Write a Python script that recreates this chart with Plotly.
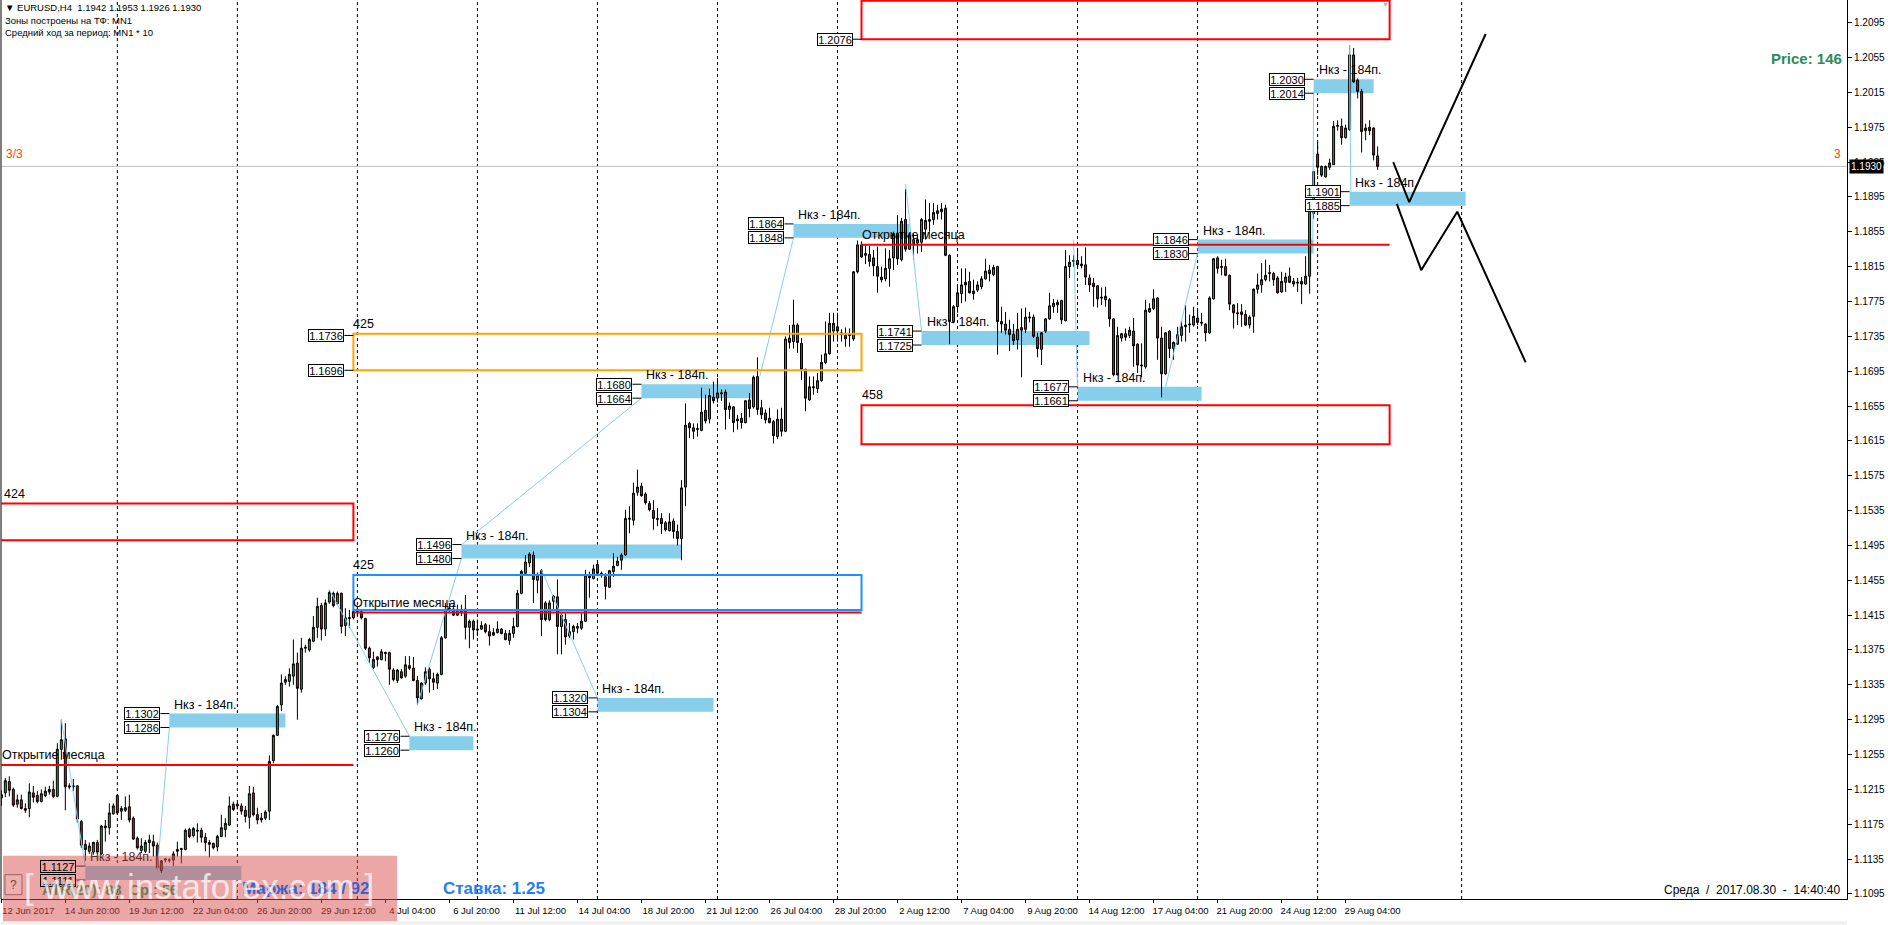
import plotly.graph_objects as go

opens = [
1.1205,1.1211,1.1224,1.1215,1.1198,1.1203,1.1193,1.1193,1.1211,1.1208,
1.1201,1.1208,1.1212,1.1215,1.1207,1.1261,1.1273,1.1219,1.1218,1.1219,
1.1178,1.1152,1.1144,1.1143,1.1154,1.1141,1.1171,1.1171,1.1187,1.1208,
1.1190,1.1191,1.1195,1.1182,1.1159,1.1145,1.1144,1.1154,1.1155,1.1151,
1.1122,1.1134,1.1134,1.1134,1.1144,1.1146,1.1146,1.1169,1.1162,1.1167,
1.1168,1.1160,1.1154,1.1153,1.1149,1.1161,1.1169,1.1174,1.1198,1.1198,
1.1196,1.1191,1.1183,1.1211,1.1186,1.1182,1.1182,1.1190,1.1248,1.1277,
1.1312,1.1338,1.1339,1.1345,1.1360,1.1330,1.1377,1.1375,1.1385,1.1401,
1.1426,1.1399,1.1430,1.1440,1.1428,1.1440,1.1403,1.1411,1.1412,1.1418,
1.1419,1.1411,1.1377,1.1355,1.1367,1.1364,1.1371,1.1372,1.1352,1.1340,
1.1350,1.1345,1.1357,1.1354,1.1340,1.1319,1.1337,1.1353,1.1342,1.1337,
1.1347,1.1389,1.1421,1.1422,1.1415,1.1419,1.1422,1.1401,1.1408,1.1399,
1.1399,1.1404,1.1396,1.1392,1.1395,1.1399,1.1394,1.1386,1.1394,1.1402,
1.1440,1.1463,1.1475,1.1484,1.1455,1.1466,1.1429,1.1410,1.1431,1.1436,
1.1402,1.1410,1.1391,1.1396,1.1400,1.1400,1.1408,1.1461,1.1457,1.1473,
1.1463,1.1459,1.1447,1.1465,1.1472,1.1478,1.1484,1.1525,1.1524,1.1556,
1.1563,1.1554,1.1543,1.1535,1.1526,1.1526,1.1521,1.1512,1.1523,1.1511,
1.1503,1.1562,1.1635,1.1630,1.1628,1.1627,1.1650,1.1640,1.1665,1.1664,
1.1669,1.1671,1.1651,1.1654,1.1640,1.1641,1.1636,1.1662,1.1654,1.1689,
1.1653,1.1647,1.1641,1.1637,1.1620,1.1640,1.1626,1.1733,1.1729,1.1748,
1.1727,1.1697,1.1662,1.1676,1.1675,1.1684,1.1705,1.1715,1.1741,1.1746,
1.1739,1.1736,1.1737,1.1732,1.1809,1.1840,1.1828,1.1829,1.1825,1.1815,
1.1803,1.1801,1.1813,1.1825,1.1853,1.1823,1.1869,1.1835,1.1846,1.1842,
1.1843,1.1858,1.1867,1.1869,1.1876,1.1878,1.1882,1.1828,1.1752,1.1769,
1.1784,1.1794,1.1798,1.1784,1.1788,1.1792,1.1801,1.1811,1.1806,1.1815,
1.1752,1.1749,1.1743,1.1737,1.1731,1.1745,1.1743,1.1756,1.1757,1.1734,
1.1720,1.1741,1.1755,1.1769,1.1771,1.1776,1.1753,1.1815,1.1821,1.1822,
1.1818,1.1817,1.1802,1.1796,1.1793,1.1780,1.1777,1.1777,1.1755,1.1691,
1.1733,1.1738,1.1736,1.1741,1.1726,1.1701,1.1700,1.1763,1.1767,1.1779,
1.1733,1.1692,1.1741,1.1721,1.1726,1.1736,1.1746,1.1748,1.1748,1.1756,
1.1750,1.1749,1.1739,1.1778,1.1825,1.1814,1.1815,1.1805,1.1771,1.1762,
1.1763,1.1760,1.1748,1.1758,1.1789,1.1794,1.1800,1.1807,1.1807,1.1802,
1.1786,1.1797,1.1804,1.1798,1.1796,1.1798,1.1795,1.1804,1.1876,1.1944,
1.1930,1.1918,1.1929,1.1932,1.1976,1.1976,1.1963,1.1972,1.2058,1.2029,
1.2016,1.1971,1.1975,1.1974,1.1942]

highs = [
1.1214,1.1228,1.1230,1.1217,1.1209,1.1209,1.1199,1.1222,1.1219,1.1213,
1.1215,1.1218,1.1219,1.1225,1.1268,1.1295,1.1291,1.1222,1.1227,1.1220,
1.1180,1.1157,1.1154,1.1155,1.1157,1.1174,1.1180,1.1199,1.1199,1.1209,
1.1196,1.1207,1.1209,1.1184,1.1161,1.1159,1.1157,1.1163,1.1163,1.1154,
1.1134,1.1136,1.1136,1.1144,1.1155,1.1148,1.1170,1.1171,1.1172,1.1176,
1.1171,1.1165,1.1157,1.1154,1.1163,1.1186,1.1182,1.1207,1.1201,1.1200,
1.1199,1.1196,1.1219,1.1218,1.1194,1.1188,1.1191,1.1254,1.1278,1.1312,
1.1347,1.1345,1.1354,1.1387,1.1372,1.1389,1.1381,1.1389,1.1414,1.1435,
1.1429,1.1433,1.1444,1.1442,1.1442,1.1441,1.1423,1.1421,1.1429,1.1425,
1.1421,1.1412,1.1379,1.1373,1.1368,1.1376,1.1373,1.1373,1.1354,1.1353,
1.1353,1.1368,1.1368,1.1367,1.1345,1.1338,1.1355,1.1355,1.1349,1.1349,
1.1391,1.1429,1.1429,1.1427,1.1427,1.1427,1.1438,1.1410,1.1410,1.1410,
1.1408,1.1406,1.1404,1.1400,1.1408,1.1400,1.1398,1.1398,1.1412,1.1444,
1.1467,1.1484,1.1487,1.1488,1.1464,1.1468,1.1431,1.1432,1.1438,1.1456,
1.1417,1.1417,1.1406,1.1404,1.1406,1.1417,1.1467,1.1465,1.1473,1.1475,
1.1465,1.1463,1.1467,1.1486,1.1482,1.1486,1.1536,1.1540,1.1567,1.1582,
1.1567,1.1556,1.1546,1.1547,1.1538,1.1532,1.1523,1.1532,1.1526,1.1519,
1.1570,1.1658,1.1637,1.1635,1.1635,1.1676,1.1668,1.1675,1.1683,1.1687,
1.1674,1.1674,1.1659,1.1655,1.1645,1.1647,1.1662,1.1670,1.1690,1.1711,
1.1662,1.1651,1.1653,1.1639,1.1651,1.1653,1.1735,1.1748,1.1777,1.1750,
1.1733,1.1698,1.1689,1.1689,1.1693,1.1714,1.1752,1.1762,1.1762,1.1762,
1.1743,1.1745,1.1744,1.1810,1.1845,1.1844,1.1840,1.1839,1.1834,1.1838,
1.1815,1.1836,1.1834,1.1855,1.1874,1.1871,1.1904,1.1853,1.1853,1.1851,
1.1871,1.1892,1.1888,1.1888,1.1886,1.1888,1.1886,1.1829,1.1771,1.1792,
1.1813,1.1813,1.1809,1.1800,1.1798,1.1804,1.1824,1.1817,1.1817,1.1816,
1.1769,1.1763,1.1754,1.1749,1.1762,1.1767,1.1768,1.1763,1.1760,1.1739,
1.1740,1.1756,1.1785,1.1778,1.1777,1.1777,1.1834,1.1828,1.1828,1.1834,
1.1827,1.1837,1.1806,1.1802,1.1794,1.1791,1.1792,1.1779,1.1756,1.1746,
1.1739,1.1744,1.1746,1.1756,1.1727,1.1727,1.1777,1.1773,1.1789,1.1780,
1.1746,1.1740,1.1742,1.1729,1.1746,1.1753,1.1771,1.1760,1.1769,1.1765,
1.1762,1.1750,1.1781,1.1825,1.1827,1.1823,1.1824,1.1806,1.1772,1.1773,
1.1772,1.1765,1.1759,1.1790,1.1807,1.1819,1.1823,1.1817,1.1809,1.1804,
1.1809,1.1808,1.1814,1.1802,1.1802,1.1803,1.1827,1.1887,1.1925,1.1958,
1.1931,1.1931,1.1939,1.1982,1.1983,1.1985,1.1978,1.2069,1.2066,1.2031,
1.2019,1.1979,1.1983,1.1975,1.1953]

lows = [
1.1196,1.1206,1.1207,1.1195,1.1194,1.1192,1.1188,1.1183,1.1200,1.1199,
1.1200,1.1206,1.1209,1.1205,1.1206,1.1249,1.1191,1.1215,1.1213,1.1177,
1.1148,1.1133,1.1141,1.1140,1.1141,1.1140,1.1155,1.1163,1.1186,1.1186,
1.1180,1.1189,1.1177,1.1157,1.1146,1.1142,1.1142,1.1142,1.1138,1.1123,
1.1119,1.1131,1.1131,1.1127,1.1138,1.1130,1.1145,1.1159,1.1160,1.1154,
1.1154,1.1144,1.1137,1.1146,1.1144,1.1160,1.1160,1.1173,1.1190,1.1192,
1.1186,1.1177,1.1170,1.1184,1.1175,1.1177,1.1180,1.1180,1.1245,1.1277,
1.1305,1.1335,1.1333,1.1335,1.1295,1.1326,1.1372,1.1373,1.1384,1.1389,
1.1386,1.1391,1.1428,1.1424,1.1427,1.1394,1.1391,1.1400,1.1410,1.1414,
1.1410,1.1375,1.1360,1.1353,1.1356,1.1363,1.1362,1.1335,1.1339,1.1337,
1.1342,1.1343,1.1352,1.1339,1.1312,1.1318,1.1335,1.1326,1.1329,1.1330,
1.1346,1.1388,1.1417,1.1414,1.1414,1.1414,1.1387,1.1377,1.1387,1.1391,
1.1398,1.1394,1.1380,1.1391,1.1394,1.1393,1.1386,1.1381,1.1389,1.1401,
1.1439,1.1460,1.1470,1.1429,1.1440,1.1391,1.1408,1.1408,1.1421,1.1370,
1.1370,1.1381,1.1389,1.1387,1.1394,1.1398,1.1407,1.1435,1.1456,1.1461,
1.1458,1.1433,1.1446,1.1459,1.1471,1.1467,1.1483,1.1509,1.1518,1.1552,
1.1551,1.1542,1.1534,1.1513,1.1517,1.1508,1.1511,1.1511,1.1503,1.1495,
1.1478,1.1540,1.1618,1.1617,1.1620,1.1626,1.1635,1.1635,1.1658,1.1659,
1.1661,1.1628,1.1640,1.1625,1.1628,1.1629,1.1635,1.1642,1.1652,1.1645,
1.1640,1.1635,1.1635,1.1612,1.1617,1.1620,1.1625,1.1721,1.1721,1.1716,
1.1685,1.1649,1.1661,1.1668,1.1670,1.1683,1.1703,1.1714,1.1729,1.1729,
1.1729,1.1723,1.1723,1.1730,1.1807,1.1825,1.1818,1.1815,1.1804,1.1785,
1.1797,1.1798,1.1792,1.1811,1.1817,1.1821,1.1832,1.1834,1.1823,1.1830,
1.1832,1.1846,1.1855,1.1863,1.1869,1.1869,1.1827,1.1726,1.1750,1.1762,
1.1773,1.1775,1.1784,1.1777,1.1786,1.1789,1.1800,1.1798,1.1804,1.1714,
1.1739,1.1737,1.1718,1.1725,1.1720,1.1688,1.1739,1.1751,1.1733,1.1711,
1.1702,1.1739,1.1754,1.1762,1.1762,1.1749,1.1752,1.1802,1.1815,1.1815,
1.1813,1.1794,1.1786,1.1769,1.1768,1.1771,1.1769,1.1746,1.1689,1.1690,
1.1729,1.1730,1.1733,1.1700,1.1693,1.1688,1.1698,1.1762,1.1765,1.1708,
1.1665,1.1691,1.1710,1.1708,1.1725,1.1729,1.1729,1.1739,1.1746,1.1748,
1.1747,1.1729,1.1738,1.1777,1.1807,1.1805,1.1804,1.1765,1.1744,1.1748,
1.1746,1.1747,1.1744,1.1739,1.1784,1.1785,1.1798,1.1798,1.1793,1.1784,
1.1785,1.1786,1.1796,1.1792,1.1786,1.1772,1.1794,1.1784,1.1870,1.1920,
1.1918,1.1917,1.1926,1.1932,1.1971,1.1955,1.1962,1.1971,1.2026,1.2008,
1.1946,1.1960,1.1966,1.1937,1.1926]

closes = [
1.1209,1.1225,1.1214,1.1197,1.1203,1.1193,1.1191,1.1212,1.1206,1.1201,
1.1210,1.1213,1.1215,1.1207,1.1261,1.1272,1.1218,1.1218,1.1219,1.1181,
1.1151,1.1146,1.1150,1.1154,1.1143,1.1173,1.1173,1.1188,1.1196,1.1188,
1.1193,1.1194,1.1180,1.1158,1.1148,1.1150,1.1154,1.1157,1.1150,1.1125,
1.1133,1.1135,1.1134,1.1141,1.1146,1.1147,1.1168,1.1161,1.1170,1.1168,
1.1160,1.1154,1.1152,1.1148,1.1161,1.1171,1.1176,1.1196,1.1192,1.1196,
1.1190,1.1184,1.1210,1.1186,1.1180,1.1180,1.1189,1.1247,1.1277,1.1310,
1.1337,1.1341,1.1347,1.1359,1.1331,1.1377,1.1378,1.1387,1.1401,1.1425,
1.1399,1.1429,1.1441,1.1426,1.1440,1.1402,1.1412,1.1412,1.1419,1.1419,
1.1412,1.1377,1.1366,1.1364,1.1364,1.1373,1.1372,1.1353,1.1341,1.1352,
1.1343,1.1358,1.1354,1.1340,1.1320,1.1337,1.1350,1.1342,1.1338,1.1347,
1.1389,1.1421,1.1423,1.1415,1.1419,1.1421,1.1401,1.1408,1.1398,1.1398,
1.1403,1.1396,1.1391,1.1395,1.1399,1.1394,1.1387,1.1394,1.1402,1.1440,
1.1465,1.1476,1.1485,1.1456,1.1461,1.1410,1.1410,1.1429,1.1437,1.1402,
1.1415,1.1390,1.1396,1.1402,1.1402,1.1408,1.1461,1.1458,1.1468,1.1463,
1.1462,1.1448,1.1466,1.1471,1.1477,1.1484,1.1526,1.1526,1.1555,1.1562,
1.1552,1.1544,1.1536,1.1526,1.1525,1.1520,1.1513,1.1522,1.1511,1.1503,
1.1561,1.1633,1.1630,1.1626,1.1629,1.1648,1.1638,1.1667,1.1661,1.1670,
1.1670,1.1651,1.1655,1.1636,1.1638,1.1636,1.1661,1.1652,1.1688,1.1651,
1.1645,1.1639,1.1636,1.1621,1.1640,1.1626,1.1732,1.1728,1.1748,1.1728,
1.1697,1.1664,1.1677,1.1677,1.1684,1.1705,1.1715,1.1750,1.1750,1.1741,
1.1737,1.1732,1.1736,1.1809,1.1840,1.1826,1.1830,1.1821,1.1816,1.1804,
1.1800,1.1813,1.1824,1.1853,1.1824,1.1867,1.1835,1.1851,1.1841,1.1846,
1.1869,1.1868,1.1869,1.1877,1.1879,1.1881,1.1828,1.1752,1.1769,1.1785,
1.1794,1.1797,1.1785,1.1787,1.1794,1.1801,1.1810,1.1807,1.1814,1.1752,
1.1749,1.1742,1.1737,1.1730,1.1743,1.1742,1.1757,1.1757,1.1735,1.1721,
1.1739,1.1755,1.1770,1.1773,1.1774,1.1754,1.1815,1.1820,1.1822,1.1817,
1.1816,1.1803,1.1794,1.1792,1.1778,1.1779,1.1781,1.1755,1.1691,1.1736,
1.1738,1.1734,1.1742,1.1724,1.1702,1.1702,1.1765,1.1767,1.1778,1.1733,
1.1692,1.1739,1.1721,1.1728,1.1737,1.1746,1.1748,1.1749,1.1758,1.1751,
1.1751,1.1739,1.1779,1.1824,1.1813,1.1815,1.1805,1.1772,1.1762,1.1761,
1.1760,1.1748,1.1757,1.1789,1.1794,1.1800,1.1805,1.1808,1.1800,1.1785,
1.1798,1.1803,1.1797,1.1795,1.1797,1.1795,1.1804,1.1886,1.1924,1.1929,
1.1920,1.1930,1.1934,1.1976,1.1977,1.1963,1.1974,1.2058,1.2027,1.2016,
1.1970,1.1974,1.1971,1.1943,1.1930]

# Axis labels
date_labels = ["12 Jun 2017","14 Jun 20:00","19 Jun 12:00","22 Jun 04:00","26 Jun 20:00","29 Jun 12:00",
               "4 Jul 04:00","6 Jul 20:00","11 Jul 12:00","14 Jul 04:00","18 Jul 20:00","21 Jul 12:00",
               "26 Jul 04:00","28 Jul 20:00","2 Aug 12:00","7 Aug 04:00","9 Aug 20:00","14 Aug 12:00",
               "17 Aug 04:00","21 Aug 20:00","24 Aug 12:00","29 Aug 04:00"]
date_bars = [0,16,32,48,64,80,96,112,128,144,160,176,192,208,224,240,256,272,288,304,320,336]
price_ticks = [1.1095,1.1135,1.1175,1.1215,1.1255,1.1295,1.1335,1.1375,1.1415,1.1455,1.1495,1.1535,1.1575,
               1.1615,1.1655,1.1695,1.1735,1.1775,1.1815,1.1855,1.1895,1.1935,1.1975,1.2015,1.2055,1.2095]
separator_bars = [29,59,89,119,149,179,209,239,269,299,329,365]

# Daily-range zones
zone_tops = [1.1127,1.1302,1.1276,1.1320,1.1496,1.1680,1.1864,1.1741,1.1677,1.1846,1.2030,1.1901]
zone_bottoms = [1.1111,1.1286,1.1260,1.1304,1.1480,1.1664,1.1848,1.1725,1.1661,1.1830,1.2014,1.1885]
zone_starts = [21,42,102,149,115,160,198,230,269,299,328,337]
zone_ends = [60,71,118,178,170,188,227,272,300,328,343,366]
zone_text = "Нкз - 184п."

# Monthly frames
frame_x0 = [215,-0.3,88,88,215]
frame_x1 = [347,88,215,215,347]
frame_y0 = [1.2076,1.1501,1.1696,1.1421,1.1611]
frame_y1 = [1.2120,1.1543,1.1738,1.1461,1.1656]
frame_colors = ["#ff0000","#ff0000","#ffa500","#1e90ff","#ff0000"]
frame_labels = ["", "424", "425", "425", "458"]
open_x0 = [-0.3,88,215]
open_x1 = [88,215,347]
open_price = [1.1243,1.1418,1.1840]
open_text = "Открытие месяца"
frame_price_labels = [1.2076,1.1736,1.1696]
frame_price_bars = [215,88,88]

# Thin links between swing points and zones
link_x = [15,21,None,39,42,None,82,102,None,104,115,None,115,160,None,135,149,None,189.6,198,None,
          226,230,None,268,269,None,291,299,None,327.8,328,None,337,337.3]
link_y = [1.1295,1.1127,None,1.1123,1.1286,None,1.1444,1.1276,None,1.1312,1.1480,None,1.1496,1.1664,None,
          1.1467,1.1320,None,1.1689,1.1848,None,1.1910,1.1741,None,1.1846,1.1677,None,1.1677,1.1830,None,
          1.1846,1.2014,None,1.2069,1.1901]

# Hand-drawn scenarios
path_a_x = [347.9,351.9,371]
path_a_y = [1.1935,1.1889,1.2082]
path_b_x = [348.8,354.9,363.9,381]
path_b_y = [1.1887,1.1811,1.1878,1.1705]

last_price = 1.1930
x_range = [-0.08,461.32]
y_range = [1.10892,1.2121]

W, H = 1888, 925
ML, MR, MT, MB = 1, 41.4, 0, 25.7
PW, PH = W-ML-MR, H-MT-MB
SANS = "Liberation Sans, Arial"
def px(x): return (x-ML)/PW
def py(y): return 1-(y-MT)/PH

fig = go.Figure()
fig.add_trace(go.Scatter(x=link_x,y=link_y,mode="lines",line=dict(color="#87ceeb",width=1),hoverinfo="skip",showlegend=False))
fig.add_trace(go.Candlestick(x=list(range(len(opens))),open=opens,high=highs,low=lows,close=closes,
    increasing=dict(line=dict(color="#000000",width=1),fillcolor="#2e9b2e"),
    decreasing=dict(line=dict(color="#000000",width=1),fillcolor="#e0101a"),
    whiskerwidth=0,showlegend=False))
for xs,ys in ((path_a_x,path_a_y),(path_b_x,path_b_y)):
    fig.add_trace(go.Scatter(x=xs,y=ys,mode="lines",line=dict(color="#000000",width=2),hoverinfo="skip",showlegend=False))

shapes=[]; ann=[]
def txt(x,y,text,xref="paper",yref="paper",size=11,color="#000000",family=SANS,xanchor="left",yanchor="middle",**kw):
    ann.append(dict(x=x,y=y,text=text,xref=xref,yref=yref,showarrow=False,xanchor=xanchor,yanchor=yanchor,
                    font=dict(size=size,color=color,family=family),**kw))

for b in separator_bars:
    shapes.append(dict(type="line",x0=b,x1=b,yref="paper",y0=0,y1=1,layer="below",line=dict(color="#000000",width=1,dash="3px,3px")))
shapes.append(dict(type="line",xref="paper",yref="y",x0=0,x1=1,y0=last_price,y1=last_price,layer="below",line=dict(color="#c0c0c0",width=1)))
shapes.append(dict(type="line",xref="paper",yref="paper",x0=0,x1=0,y0=0,y1=1,line=dict(color="#000000",width=1)))

for i,(t,b,s,e) in enumerate(zip(zone_tops,zone_bottoms,zone_starts,zone_ends)):
    shapes.append(dict(type="rect",x0=s,x1=e,y0=b,y1=t,layer="below",fillcolor="#87ceeb",line=dict(width=0)))
    for p in (t,b):
        shapes.append(dict(type="line",x0=s-2.25,x1=s,y0=p,y1=p,line=dict(color="#000000",width=1)))
        txt(s,p,f"{p:.4f}",xref="x",yref="y",xanchor="right",xshift=-9,size=11,
            bgcolor="#ffffff" if i else "#eba6a6",bordercolor="#000000",borderwidth=1,borderpad=0,width=34,height=11)
    txt(s,t,zone_text,xref="x",yref="y",size=12.5,xshift=3,yanchor="bottom",
        color="#000000" if i else "#5a2a2a")

for x0,x1,y0,y1,c,lab in zip(frame_x0,frame_x1,frame_y0,frame_y1,frame_colors,frame_labels):
    shapes.append(dict(type="rect",x0=x0,x1=x1,y0=y0,y1=y1,line=dict(color=c,width=2)))
    if lab:
        txt(max(x0,0),y1,lab,xref="x",yref="y",size=12.5,xshift=-2 if x0>0 else 1,yanchor="bottom",yshift=1)
for x0,x1,p in zip(open_x0,open_x1,open_price):
    shapes.append(dict(type="line",x0=x0,x1=x1,y0=p,y1=p,line=dict(color="#ff0000",width=2)))
    txt(max(x0,0),p,open_text,xref="x",yref="y",size=12.5,xshift=-2 if x0>0 else -1,yanchor="bottom",yshift=1)
for p,b in zip(frame_price_labels,frame_price_bars):
    shapes.append(dict(type="line",x0=b-2.25,x1=b,y0=p,y1=p,line=dict(color="#000000",width=1)))
    txt(b,p,f"{p:.4f}",xref="x",yref="y",xanchor="right",xshift=-9,size=11,
        bgcolor="#ffffff",bordercolor="#000000",borderwidth=1,borderpad=0,width=34,height=11)

# Header and corner texts
txt(px(2.5),py(8),"▼\u00a0EURUSD,H4\u00a0\u00a01.1942 1.1953 1.1926 1.1930",size=9.5)
txt(px(2.5),py(21),"Зоны построены на ТФ: MN1",size=9.5)
txt(px(2.5),py(33),"Средний ход за период: MN1 * 10",size=9.5)
txt(px(4),py(154),"3/3",size=12,color="#ff4500")
txt(px(1843),py(154),"3",size=12,color="#ff4500",xanchor="right")
txt(px(1844),py(59),"<b>Price: 146</b>",size=15,color="#2e8b57",xanchor="right")
txt(px(1843),py(890),"Среда  /  2017.08.30  -  14:40:40".replace("  ","\u00a0\u00a0"),size=12,xanchor="right")
txt(px(441),py(889),"<b>Ставка: 1.25</b>",size=17,color="#1e80f0")
txt(px(240),py(889),"<b>Маржа: 184 / 92</b>",size=17,color="#3a62c8")
txt(px(40),py(890),"<b>ATR(20): 88  Ср.: 56</b>".replace("  ","\u00a0\u00a0"),size=14.5,color="#6f7a55")
ann.append(dict(x=1,y=last_price,xref="paper",yref="y",text="1.1930",showarrow=False,xanchor="left",yanchor="middle",xshift=2,
                font=dict(size=10,color="#ffffff",family=SANS),bgcolor="#000000",borderpad=1))
# Grey corner marker on the upper frame
txt(346,1.2116,"▼",xref="x",yref="y",size=7,color="#b0b0b0",xanchor="center")

# Watermark
shapes.append(dict(type="rect",xref="paper",yref="paper",x0=px(3),x1=px(397),y0=py(922),y1=py(856),fillcolor="rgba(217,77,77,0.5)",line=dict(width=0)))
shapes.append(dict(type="rect",xref="paper",yref="paper",x0=px(5),x1=px(22),y0=py(895),y1=py(875),fillcolor="rgba(255,255,255,0.1)",line=dict(color="#a06060",width=1)))
txt(px(13.5),py(885),"?",size=12,color="#804040",xanchor="center")
txt(px(22),py(887),"[ www.instaforex.com ]",size=35,color="rgba(255,255,255,0.72)")
shapes.append(dict(type="rect",xref="paper",yref="paper",x0=0,x1=1,y0=py(925),y1=py(921.5),fillcolor="#f0f0f0",line=dict(width=0)))

fig.update_layout(width=W,height=H,margin=dict(l=ML,r=MR,t=MT,b=MB,pad=0),paper_bgcolor="#ffffff",plot_bgcolor="#ffffff",
    showlegend=False,shapes=shapes,annotations=ann,
    xaxis=dict(range=x_range,rangeslider=dict(visible=False),showgrid=False,zeroline=False,tickmode="array",
               tickvals=date_bars,ticktext=date_labels,ticks="outside",ticklen=3,tickcolor="#000000",tickwidth=1,
               ticklabelshift=27,ticklabelstandoff=0,ticklabeloverflow="allow",showline=True,linecolor="#000000",linewidth=1,
               tickfont=dict(family=SANS,size=9.5,color="#000000"),tickangle=0),
    yaxis=dict(range=y_range,side="right",showgrid=False,zeroline=False,tickmode="array",tickvals=price_ticks,
               ticktext=[f"{v:.4f}" for v in price_ticks],ticks="outside",ticklen=4,tickcolor="#000000",tickwidth=1,
               showline=True,linecolor="#000000",linewidth=1,tickfont=dict(family=SANS,size=10,color="#000000")))

fig.write_html("out.html",config=dict(displayModeBar=False),post_script="document.body.style.margin='0';document.body.style.overflow='hidden';")
